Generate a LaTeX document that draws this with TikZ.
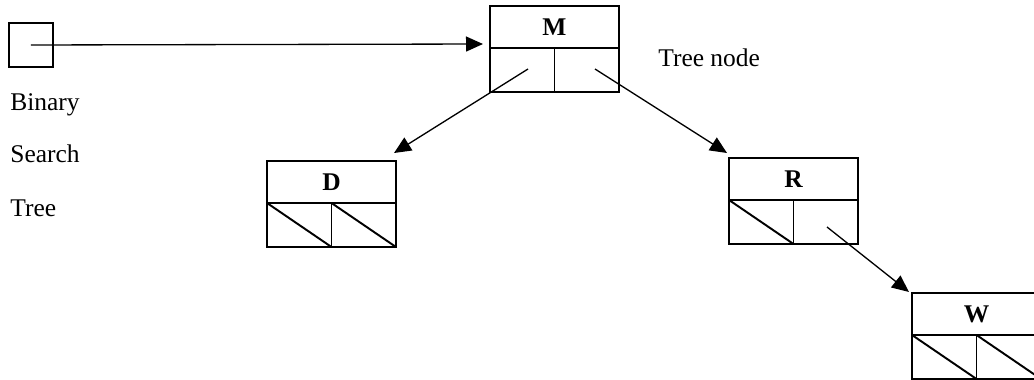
\documentclass[tikz,border=0pt]{standalone}
\usepackage{fontspec}
\setmainfont{Liberation Serif}
\usetikzlibrary{arrows.meta}

\begin{document}
\begin{tikzpicture}[x=0.02cm, y=-0.02cm,
        font=\fontsize{14.5}{17}\selectfont,
        keybox/.style={draw, line width=1.1pt, anchor=north west, inner sep=0pt, outer sep=0pt,
                minimum width=2.58cm, minimum height=0.84cm, font=\fontsize{14.5}{17}\selectfont\bfseries},
        ptrbox/.style={draw, line width=1.1pt, anchor=north west, inner sep=0pt, outer sep=0pt,
                minimum width=1.29cm, minimum height=0.88cm},
        link/.style={line width=0.75pt, -{Triangle[length=3.4mm,width=3mm]}},
        lbl/.style={anchor=base west, inner sep=0pt}]
                \useasboundingbox (0,0) rectangle (1034,379);

                %Draw the root pointer
                \node[draw, line width=1.1pt, minimum size=0.88cm, inner sep=0pt, outer sep=0pt, anchor=north west] (root) at (9,23) {};
                \node[lbl] (bin) at (10,110) {Binary};
                \node[lbl] (sea) at (10,162) {Search};
                \node[lbl] (tre) at (10,216) {Tree};

                %Draw tree node M
                \node[keybox] (M) at (490,6) {M};
                \node[ptrbox] (Ml) at (M.south west) {};
                \node[ptrbox] (Mr) at (Ml.north east) {};
                \node[lbl] (tn) at (658,66) {Tree node};

                %Draw tree node D
                \node[keybox] (D) at (267,161) {D};
                \node[ptrbox] (Dl) at (D.south west) {};
                \node[ptrbox] (Dr) at (Dl.north east) {};
                \draw[line width=1.1pt] (Dl.north west) -- (Dl.south east);
                \draw[line width=1.1pt] (Dr.north west) -- (Dr.south east);

                %Draw tree node R
                \node[keybox] (R) at (729,158) {R};
                \node[ptrbox] (Rl) at (R.south west) {};
                \node[ptrbox] (Rr) at (Rl.north east) {};
                \draw[line width=1.1pt] (Rl.north west) -- (Rl.south east);

                %Draw tree node W
                \node[keybox] (W) at (912,293) {W};
                \node[ptrbox] (Wl) at (W.south west) {};
                \node[ptrbox] (Wr) at (Wl.north east) {};
                \draw[line width=1.1pt] (Wl.north west) -- (Wl.south east);
                \draw[line width=1.1pt] (Wr.north west) -- (Wr.south east);

                %Draw the links
                \coordinate (Mlp) at (528,69);
                \coordinate (Mrp) at (595,69);
                \coordinate (Rrp) at (827,227);
                \coordinate (toM) at (483,44);
                \coordinate (toD) at (394,153);
                \coordinate (toR) at (727,153);
                \coordinate (toW) at (909,292);
                \draw[link] (root.center) -- (toM);
                \draw[link] (Mlp) -- (toD);
                \draw[link] (Mrp) -- (toR);
                \draw[link] (Rrp) -- (toW);

            \end{tikzpicture}
\end{document}
